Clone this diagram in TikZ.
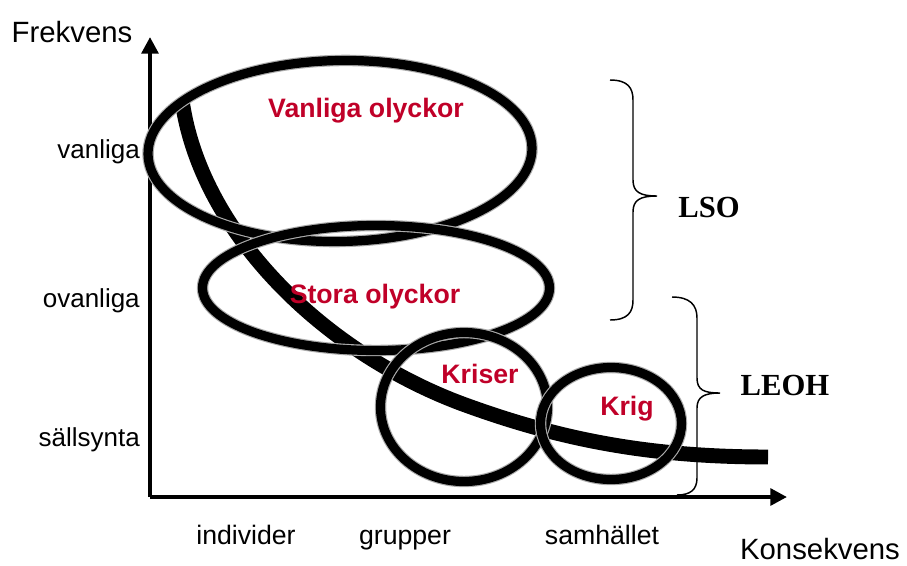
\documentclass[tikz,border=0pt]{standalone}
\usepackage{fontspec}
\setmainfont{Liberation Sans}
\newfontfamily\timesf{Liberation Serif}
\usetikzlibrary{arrows.meta}
\definecolor{olred}{RGB}{192,0,40}
\begin{document}
\begin{tikzpicture}[x=0.75pt,y=-0.75pt,
  axis/.style={line width=3pt,-{Triangle[length=12.5pt,width=12.5pt]}},
  ring/.style={draw=black,line width=6.9pt,preaction={draw=gray!65,line width=8.6pt}},
  bigcurve/.style={line width=11.2pt,line cap=butt},
  brace/.style={line width=1.1pt},
  axlabel/.style={inner sep=0pt,anchor=base,font=\fontsize{22}{26}\selectfont},
  ticklabel/.style={inner sep=0pt,anchor=base east,font=\fontsize{19.5}{23}\selectfont},
  catlabel/.style={inner sep=0pt,anchor=base,font=\fontsize{20}{24}\selectfont},
  redlabel/.style={inner sep=0pt,anchor=base,text=olred,font=\fontsize{20}{24}\selectfont\bfseries},
  grouplabel/.style={inner sep=0pt,anchor=base,font=\fontsize{23}{27}\selectfont\timesf\bfseries}]
\useasboundingbox (0,0) rectangle (907,565);

% axes
\coordinate (o) at (150,497);
\coordinate (ytip) at (150,37);
\coordinate (xtip) at (787,497);
\draw[axis] (o) -- (ytip);
\draw[axis] (o) -- (xtip);

% axis labels
\node[axlabel] (frek) at (72,42) {Frekvens};
\node[axlabel] (kons) at (820,559) {Konsekvens};
\node[ticklabel] (vanl) at (140,158) {vanliga};
\node[ticklabel] (ovanl) at (140,307) {ovanliga};
\node[ticklabel] (sall) at (140,446) {sällsynta};
\node[catlabel] (indiv) at (246,544) {individer};
\node[catlabel] (grupp) at (405,544) {grupper};
\node[catlabel] (samh) at (602,544) {samhället};

% thick curve
\coordinate (cstart) at (182,100);
\coordinate (cmid) at (460,403);
\coordinate (cend) at (768,457);
\draw[bigcurve] (cstart) .. controls (200,230) and (320,350) .. (cmid)
  .. controls (560,440) and (650,457) .. (cend);

% ellipses
\draw[ring] (340,151) ellipse [x radius=192, y radius=90.5, rotate=1];
\draw[ring] (376,288) ellipse [x radius=173.5, y radius=62.5];
\draw[ring] (464,407) ellipse [x radius=83.5, y radius=74.5];
\draw[ring] (611,423.5) ellipse [x radius=70.5, y radius=56];

% red labels
\node[redlabel] (vo) at (366,117) {Vanliga olyckor};
\node[redlabel] (so) at (375,303) {Stora olyckor};
\node[redlabel] (kr) at (480,383) {Kriser};
\node[redlabel] (kg) at (627,415) {Krig};

% braces
\draw[brace] (610,80) .. controls (628,80) and (633,88) .. (633,100) -- (633,180)
  .. controls (633,192) and (640,196) .. (657,196)
  .. controls (640,196) and (633,200) .. (633,212) -- (633,300)
  .. controls (633,312) and (628,320) .. (610,320);
\draw[brace] (672,297) .. controls (690,297) and (697,305) .. (697,318) -- (697,378)
  .. controls (697,390) and (704,393) .. (720,393)
  .. controls (704,393) and (697,397) .. (697,408) -- (697,478)
  .. controls (697,490) and (690,495) .. (677,495);

\node[grouplabel] (lso) at (709,217) {LSO};
\node[grouplabel] (leoh) at (785,395) {LEOH};
\end{tikzpicture}
\end{document}
